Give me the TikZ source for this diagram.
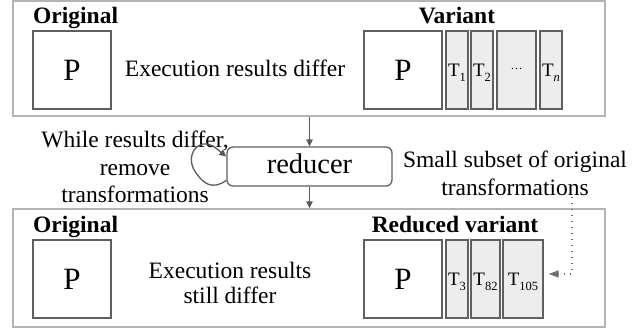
\documentclass[tikz,border=0pt]{standalone}
\usepackage{fontspec}
\setmainfont{Liberation Serif}
\usetikzlibrary{arrows.meta,calc}
\definecolor{outerc}{HTML}{B4B4B4}
\definecolor{innerc}{HTML}{5F5F5F}
\definecolor{tfill}{HTML}{EDEDED}
\definecolor{arrowc}{HTML}{5A5A5A}
\definecolor{dotc}{HTML}{6E6E6E}
\newcommand{\tsub}[1]{T\raisebox{-5.5pt}{\fontsize{12.5}{12.5}\selectfont #1}}
\begin{document}
\begin{tikzpicture}[x=1pt,y=-1pt,
 txt/.style={inner sep=0pt, font=\fontsize{23.5}{27.75}\selectfont, align=center},
 lbl/.style={inner sep=0pt, font=\fontsize{23.5}{27.75}\selectfont\bfseries},
 frame/.style={draw=outerc, line width=1.5pt, inner sep=0pt, minimum width=592pt},
 pbox/.style={draw=innerc, line width=1.3pt, fill=white, minimum width=78pt, minimum height=78pt, inner sep=0pt, font=\fontsize{31}{31}\selectfont},
 tbox/.style={draw=innerc, line width=1.3pt, fill=tfill, minimum height=78pt, inner sep=0pt, text depth=0pt, font=\fontsize{19}{19}\selectfont},
 redbox/.style={draw=innerc, line width=1.3pt, rounded corners=6pt, minimum width=165pt, minimum height=39pt, inner sep=0pt, text depth=6pt, font=\fontsize{28.5}{28.5}\selectfont},
 arr/.style={draw=arrowc, line width=1.3pt, -{Triangle[length=7pt,width=6.5pt]}},
 dotarr/.style={draw=dotc, line width=1.4pt, dash pattern=on 1.4pt off 4.6pt, -{Triangle[length=10pt,width=7pt]}},
]
\useasboundingbox (0,0) rectangle (640,330);
% frames
\node[frame, minimum height=115pt] (top) at (309,58.5) {};
\node[frame, minimum height=118pt] (bot) at (309,268) {};
% top row
\node[lbl, anchor=base west] (orig1) at (33,23) {Original};
\node[pbox] (p1) at (72,70) {P};
\node[txt, anchor=base] (exec1) at (235,76) {Execution results differ};
\node[lbl, anchor=base] (var1) at (457,23) {Variant};
\node[pbox] (p2) at (403,70) {P};
\node[tbox, minimum width=22pt] (t1) at (457,70) {\tsub{1}};
\node[tbox, minimum width=22pt] (t2) at (482,70) {\tsub{2}};
\node[tbox, minimum width=39pt] (tdots) at (516.5,70) {\raisebox{3pt}{\fontsize{12}{12}\selectfont …}};
\node[tbox, minimum width=22pt] (tn) at (551,70) {\tsub{\textit{n}}};
% middle
\node[redbox] (red) at (309.5,166.5) {reducer};
\node[txt] (loopnote) at (135,167) {While results differ,\\remove\\transformations};
\node[txt] (subnote) at (515,173) {Small subset of original\\transformations};
\draw[arr] (red.north |- top.south) -- (red.north);
\draw[arr] (red.south) -- (red.south |- bot.north);
\draw[arr] ([yshift=-14pt]red.west) .. controls (212,190) and (204,184) .. (196,173)
  .. controls (187,161) and (192,146) .. (203,144)
  .. controls (212,143) and (218,150) .. ([yshift=10pt]red.west);
% bottom row
\node[lbl, anchor=base west] (orig2) at (33,232) {Original};
\node[pbox] (p3) at (72,279) {P};
\node[txt, font=\fontsize{23.5}{25}\selectfont] (exec2) at (230,283) {Execution results\\still differ};
\node[lbl, anchor=base] (var2) at (455,232) {Reduced variant};
\node[pbox] (p4) at (403,279) {P};
\node[tbox, minimum width=22pt] (t3) at (457,279) {\tsub{3}};
\node[tbox, minimum width=29pt] (t82) at (485.5,279) {\tsub{82}};
\node[tbox, minimum width=40pt] (t105) at (523,279) {\tsub{105}};
\coordinate (dtop) at (572,197);
\draw[dotarr] (dtop) |- ([xshift=5pt,yshift=5pt]t105.east);
\end{tikzpicture}
\end{document}
